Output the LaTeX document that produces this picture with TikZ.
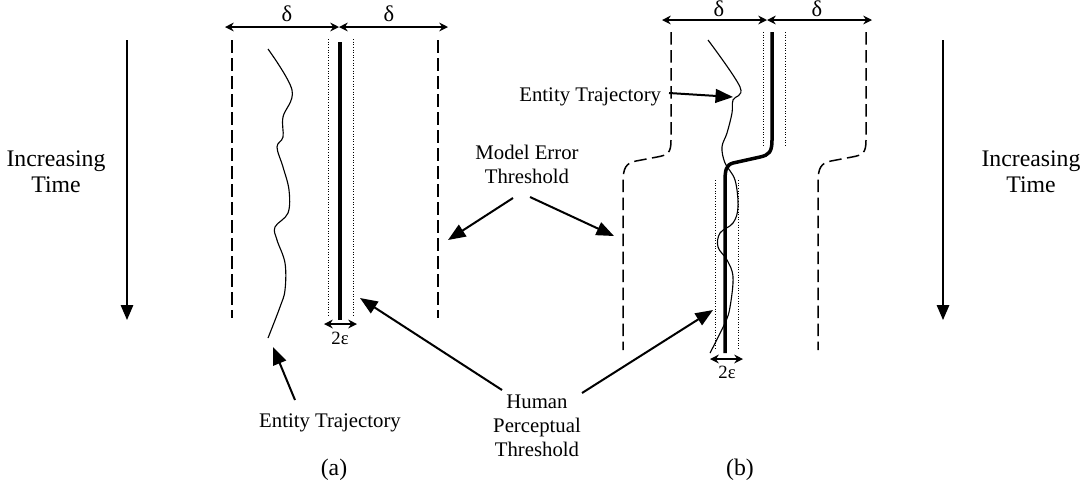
\documentclass[tikz,border=0pt]{standalone}
\usepackage{fontspec}
\setmainfont{Liberation Serif}
\usetikzlibrary{arrows.meta}

\tikzset{
	lbl/.style={font=\fontsize{8.3}{9.6}\selectfont, align=center, inner sep=1pt},
	biglbl/.style={font=\fontsize{9.5}{10.4}\selectfont, align=center, inner sep=1pt},
	sym/.style={font=\fontsize{9}{10}\selectfont, inner sep=0pt},
	epslbl/.style={font=\fontsize{7.5}{8}\selectfont, inner sep=0pt},
	bound/.style={line width=0.6pt, dash pattern=on 5pt off 2.2pt},
	band/.style={line width=0.35pt, dash pattern=on 0.35pt off 0.7pt},
	traj/.style={line width=0.45pt},
	model/.style={line width=1.4pt},
	ptr/.style={-{Triangle[length=7pt,width=5.5pt]}, line width=0.8pt},
	timeaxis/.style={-{Triangle[length=6pt,width=5pt]}, line width=0.6pt},
	span/.style={{Stealth[length=3.5pt,width=3.5pt]}-{Stealth[length=3.5pt,width=3.5pt]}, line width=0.6pt},
}

\begin{document}
\begin{tikzpicture}[x=0.4pt,y=-0.4pt]
		\useasboundingbox (0,0) rectangle (1090,489);
		\node[biglbl] (timeL) at (56,172) {Increasing\\Time};
		\node[biglbl] (timeR) at (1031,172) {Increasing\\Time};
		\coordinate (tL0) at (127,40);
		\coordinate (tL1) at (127,320);
		\coordinate (tR0) at (943,40);
		\coordinate (tR1) at (943,320);
		\draw[timeaxis] (tL0) -- (tL1);
		\draw[timeaxis] (tR0) -- (tR1);
		\coordinate (aL) at (225,27);
		\coordinate (aM) at (339,27);
		\coordinate (aR) at (448,27);
		\draw[span] (aL) -- (aM);
		\draw[span] (aM) -- (aR);
		\node[sym] (dA1) at (287,14) {δ};
		\node[sym] (dA2) at (389,14) {δ};
		\foreach \x in {232,438}{
			\draw[bound] (\x,40) -- (\x,318);
		};
		\foreach \x in {328,353}{
			\draw[band] (\x,39) -- (\x,317);
		};
		\draw[model] (340,42) -- (340,320);
		\coordinate (eA0) at (324,324);
		\coordinate (eA1) at (357,324);
		\draw[span] (eA0) -- (eA1);
		\node[epslbl] (epsA) at (340,338) {2ε};
		\draw[traj] plot[smooth, tension=0.6] coordinates {(268,49) (292,90) (283,117) (283,137) (277,147) (283,167) (289,190) (288,213) (275,227) (277,240) (285,263) (285,290) (280,307) (268,338)};
		\coordinate (bL) at (662,20);
		\coordinate (bM) at (767,20);
		\coordinate (bR) at (872,20);
		\draw[span] (bL) -- (bM);
		\draw[span] (bM) -- (bR);
		\node[sym] (dB1) at (719,9) {δ};
		\node[sym] (dB2) at (817,9) {δ};
		\foreach \x in {671,866}{
			\draw[bound] (\x,32) -- (\x,140) .. controls (\x,153) and (\x-3,155) .. (\x-14,157) -- (\x-35,161) .. controls (\x-45,163) and (\x-48,168) .. (\x-48,182) -- (\x-48,350);
		};
		\foreach \x in {763,785}{
			\draw[band] (\x,32) -- (\x,147);
		};
		\foreach \x in {715,738}{
			\draw[band] (\x,180) -- (\x,350);
		};
		\draw[model] (772,32) -- (772,140) .. controls (772,152) and (769,155) .. (760,157) -- (733,163) .. controls (726,165) and (725,170) .. (725,182) -- (725,353);
		\coordinate (eB0) at (710,359);
		\coordinate (eB1) at (743,359);
		\draw[span] (eB0) -- (eB1);
		\node[epslbl] (epsB) at (727,372) {2ε};
		\draw[traj] plot[smooth, tension=0.6] coordinates {(708,40) (740,87) (733,100) (732,113) (727,133) (722,147) (725,163) (735,180) (738,207) (733,223) (720,233) (718,247) (727,260) (733,277) (730,307) (725,323) (710,353)};
		\node[lbl,anchor=east] (trajB) at (664,97) {Entity Trajectory};
		\coordinate (trajB0) at (669,93);
		\coordinate (trajB1) at (733,97);
		\draw[ptr] (trajB0) -- (trajB1);
		\node[lbl] (model) at (527,164) {Model Error\\Threshold};
		\coordinate (modelL0) at (513,198);
		\coordinate (modelL1) at (448,240);
		\coordinate (modelR0) at (530,197);
		\coordinate (modelR1) at (614,236);
		\draw[ptr] (modelL0) -- (modelL1);
		\draw[ptr] (modelR0) -- (modelR1);
		\node[lbl] (human) at (537,426) {Human\\Perceptual\\Threshold};
		\coordinate (humanL0) at (502,390);
		\coordinate (humanL1) at (360,298);
		\coordinate (humanR0) at (582,393);
		\coordinate (humanR1) at (713,310);
		\draw[ptr] (humanL0) -- (humanL1);
		\draw[ptr] (humanR0) -- (humanR1);
		\node[lbl] (trajA) at (330,423) {Entity Trajectory};
		\coordinate (trajA0) at (295,400);
		\coordinate (trajA1) at (273,347);
		\draw[ptr] (trajA0) -- (trajA1);
		\node[biglbl] (capA) at (334,470) {(a)};
		\node[biglbl] (capB) at (740,470) {(b)};
	\end{tikzpicture}
\end{document}
